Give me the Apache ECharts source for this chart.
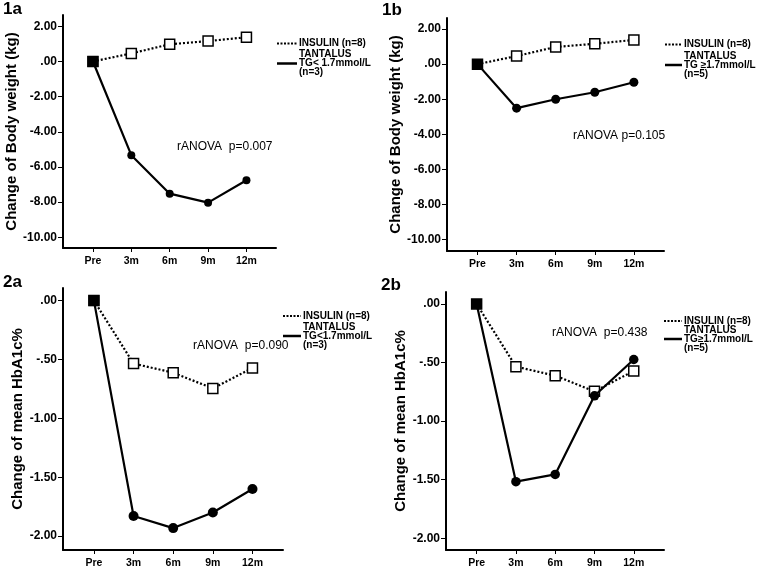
<!DOCTYPE html>
<html><head><meta charset="utf-8">
<script src="https://cdn.jsdelivr.net/npm/echarts@6/dist/echarts.min.js"></script>
<style>html,body{margin:0;padding:0;background:#fff}#c{width:760px;height:569px}</style>
</head><body><div id="c"></div>
<script>
const categories = ['Pre', '3m', '6m', '9m', '12m'];
const insulinBW = [0, 0.46, 0.98, 1.16, 1.38];
const tantalusBW_low = [0, -5.33, -7.52, -8.03, -6.76];
const tantalusBW_high = [0, -2.51, -2.0, -1.6, -1.03];
const insulinHb = [0, -0.535, -0.612, -0.746, -0.572];
const tantalusHb_low = [0, -1.829, -1.932, -1.80, -1.60];
const tantalusHb_high = [0, -1.517, -1.455, -0.784, -0.474];
const bwTicks = [-10, -8, -6, -4, -2, 0, 2];
const hbTicks = [-2, -1.5, -1, -0.5, 0];
const catTicks = [0, 1, 2, 3, 4];

const fmtY = v => { let s = Math.abs(v).toFixed(2); if (s[0] === '0') s = s.slice(1); return (v < 0 ? '-' : '') + s; };
const sans = '"Liberation Sans", Arial, sans-serif';

const grids = [
  {left: 63, top: 15, width: 213, height: 233},
  {left: 447, top: 18, width: 217, height: 233},
  {left: 63, top: 288, width: 220, height: 265},
  {left: 446, top: 292, width: 218, height: 258}
];
const yRanges = [[-10.61, 2.645], [-10.65, 2.63], [-2.118, 0.107], [-2.10, 0.102]];
const yNames = ['Change of Body weight (kg)', 'Change of Body weight (kg)', 'Change of mean HbA1c%', 'Change of mean HbA1c%'];
const yTicksSets = [bwTicks, bwTicks, hbTicks, hbTicks];
const nameGaps = [44, 44, 38, 38];

const xAxes = grids.map((g, i) => ({
  type: 'value', gridIndex: i, min: -0.78, max: 4.77,
  splitLine: {show: false},
  axisLine: {onZero: false, lineStyle: {color: '#000', width: 2}},
  axisTick: {show: true, customValues: catTicks, length: 4, lineStyle: {color: '#000', width: 1}},
  axisLabel: {customValues: catTicks, formatter: v => categories[Math.round(v)], color: '#000',
    fontFamily: sans, fontWeight: 'bold', fontSize: 10.5, margin: 8}
}));
const yAxes = grids.map((g, i) => ({
  type: 'value', gridIndex: i, min: yRanges[i][0], max: yRanges[i][1],
  splitLine: {show: false},
  axisLine: {show: true, onZero: false, lineStyle: {color: '#000', width: 2}},
  axisTick: {show: true, customValues: yTicksSets[i], length: 5, lineStyle: {color: '#000', width: 1}},
  axisLabel: {customValues: yTicksSets[i], formatter: fmtY, color: '#000',
    fontFamily: sans, fontWeight: 'bold', fontSize: 12, margin: 6},
  name: yNames[i], nameLocation: 'middle', nameRotate: 90, nameGap: nameGaps[i],
  nameTextStyle: {color: '#000', fontFamily: sans, fontWeight: 'bold', fontSize: 15}
}));

function insSeries(vals, gi, sz) {
  return {type: 'line', xAxisIndex: gi, yAxisIndex: gi, z: 2,
    data: vals.map((v, k) => [k, v]),
    symbol: 'rect', symbolSize: sz, showSymbol: true,
    itemStyle: {color: '#fff', borderColor: '#000', borderWidth: 1.5},
    lineStyle: {color: '#000', width: 2.2, type: [2, 2]}, animation: false};
}
function tanSeries(vals, gi, sz, psz) {
  return {type: 'line', xAxisIndex: gi, yAxisIndex: gi, z: 3,
    data: vals.map((v, k) => k === 0 ? {value: [k, v], symbol: 'rect', symbolSize: psz} : [k, v]),
    symbol: 'circle', symbolSize: sz,
    itemStyle: {color: '#000', borderColor: '#000', borderWidth: 0},
    lineStyle: {color: '#000', width: 2.2}, animation: false};
}

const series = [
  insSeries(insulinBW, 0, 10), tanSeries(tantalusBW_low, 0, 8, 11),
  insSeries(insulinBW, 1, 10), tanSeries(tantalusBW_high, 1, 9, 10),
  insSeries(insulinHb, 2, 10), tanSeries(tantalusHb_low, 2, 10, 11),
  insSeries(insulinHb, 3, 10), tanSeries(tantalusHb_high, 3, 9.5, 10)
];

function label(txt, x, y) {
  return {type: 'text', left: x, top: y, style: {text: txt, fill: '#000', font: 'bold 17px ' + sans}};
}
function stat(txt, x, y) {
  return {type: 'text', x: x, y: y, style: {text: txt, fill: '#000', font: '12px ' + sans, textVerticalAlign: 'middle'}};
}
function legend(x1, x2, tx, rows, tg, nn) {
  const f = 'bold 10px ' + sans;
  const t = (s, y) => ({type: 'text', x: tx, y: y, style: {text: s, fill: '#000', font: f, textVerticalAlign: 'middle'}});
  return [
    {type: 'line', shape: {x1: x1, y1: rows[0], x2: x2, y2: rows[0]}, style: {stroke: '#000', lineWidth: 2, lineDash: [2, 1.5]}},
    {type: 'line', shape: {x1: x1, y1: rows[2], x2: x2, y2: rows[2]}, style: {stroke: '#000', lineWidth: 2.5}},
    t('INSULIN (n=8)', rows[0]), t('TANTALUS', rows[1]), t(tg, rows[2]), t(nn, rows[3])
  ];
}

const graphic = [
  label('1a', 3, 1), label('1b', 382, 2), label('2a', 3, 274), label('2b', 381, 277),
  stat('rANOVA  p=0.007', 177, 147), stat('rANOVA p=0.105', 573, 136),
  stat('rANOVA  p=0.090', 193, 346), stat('rANOVA  p=0.438', 552, 333),
  ...legend(277, 297, 299, [43.5, 54.5, 63.5, 72.5], 'TG< 1.7mmol/L', '(n=3)'),
  ...legend(665, 682, 684, [44.5, 56, 65, 74], 'TG ≥1.7mmol/L', '(n=5)'),
  ...legend(283, 301, 303, [316, 327, 336, 345], 'TG<1.7mmol/L', '(n=3)'),
  ...legend(664, 682, 684, [321, 330, 339, 348], 'TG≥1.7mmol/L', '(n=5)')
];

const chart = echarts.init(document.getElementById('c'), null, {renderer: 'canvas'});
chart.setOption({animation: false, backgroundColor: '#fff', grid: grids, xAxis: xAxes, yAxis: yAxes, series: series, graphic: graphic});
</script></body></html>
